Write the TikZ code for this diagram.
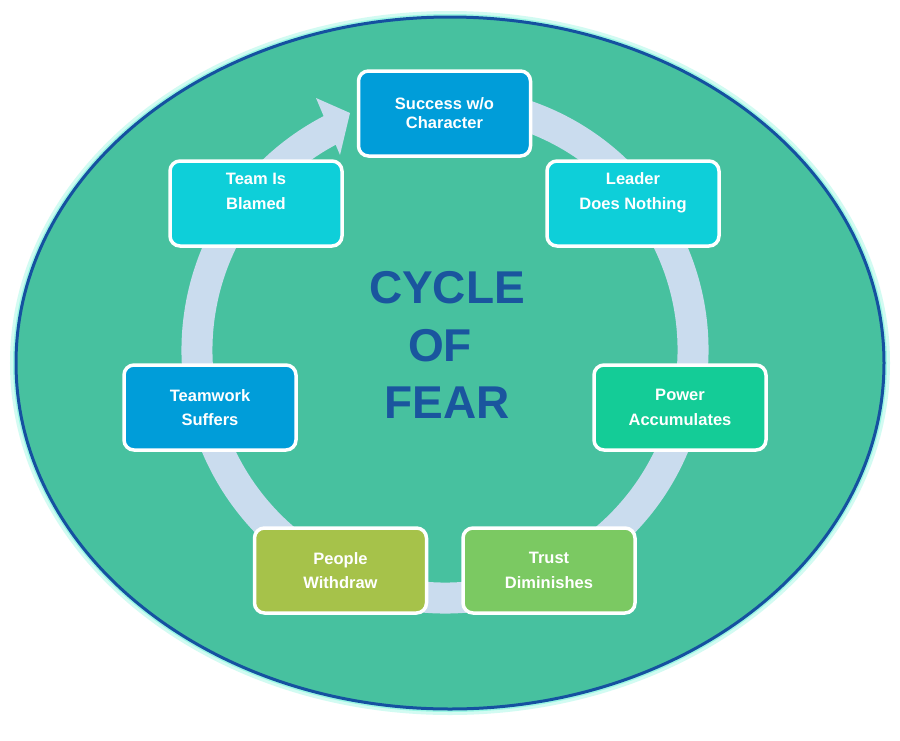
\documentclass[tikz,border=0pt]{standalone}
\usepackage{fontspec}
\setmainfont{Liberation Sans}
\definecolor{bgfill}{HTML}{47C19F}
\definecolor{rimblue}{HTML}{1551A0}
\definecolor{glowc}{HTML}{9CF7E4}
\definecolor{ringc}{HTML}{CADCEE}
\definecolor{cblue}{HTML}{009DD9}
\definecolor{ccyan}{HTML}{0ECFD9}
\definecolor{cteal}{HTML}{14CC97}
\definecolor{colive}{HTML}{A6C24A}
\definecolor{cgreen}{HTML}{7BC962}
\definecolor{titlec}{HTML}{1A559E}
\begin{document}
\begin{tikzpicture}[x=1pt,y=-1pt,
  stage/.style={draw=white, line width=3.5pt, rounded corners=10pt,
    minimum width=172pt, minimum height=85pt, inner sep=0pt,
    text=white, align=center, font=\bfseries\fontsize{16.5}{24.5}\selectfont},
  ringline/.style={draw=ringc, line width=31pt}
]
\useasboundingbox[fill=white] (0,0) rectangle (900,740);
% outer ellipse with glow
\draw[glowc, line width=12pt, opacity=0.45] (450,363) ellipse [x radius=434, y radius=346];
\draw[glowc, line width=6pt] (450,363) ellipse [x radius=434, y radius=346];
\fill[bgfill] (450,363) ellipse [x radius=434, y radius=346];
\draw[rimblue, line width=3pt] (450,363) ellipse [x radius=434, y radius=346];
% cycle ring with arrow
\coordinate (ringc) at (445,350);
\draw[ringline] (ringc) ++(-80:248) arc[start angle=-80, end angle=243, radius=248];
\fill[ringc] (316,98) -- (350,113) -- (340,155) -- cycle;
% stages
\node[stage, fill=cblue, font=\bfseries\fontsize{16.5}{19}\selectfont] (s1) at (444.5,113.5) {Success w/o\\Character};
\node[stage, fill=ccyan] (s2) at (633,203.5) {Leader\\Does Nothing\\\mbox{}};
\node[stage, fill=cteal] (s3) at (680,407.5) {Power\\Accumulates};
\node[stage, fill=cgreen] (s4) at (549,570.5) {Trust\\Diminishes};
\node[stage, fill=colive] (s5) at (340.5,570.5) {People\\Withdraw};
\node[stage, fill=cblue] (s6) at (210,407.5) {Teamwork\\Suffers};
\node[stage, fill=ccyan] (s7) at (256,203.5) {Team Is\\Blamed\\\mbox{}};
% title
\node[text=titlec, align=center, font=\bfseries\fontsize{46}{57.5}\selectfont] (title) at (447,345) {CYCLE\\OF\kern14pt\\FEAR};
\end{tikzpicture}
\end{document}
